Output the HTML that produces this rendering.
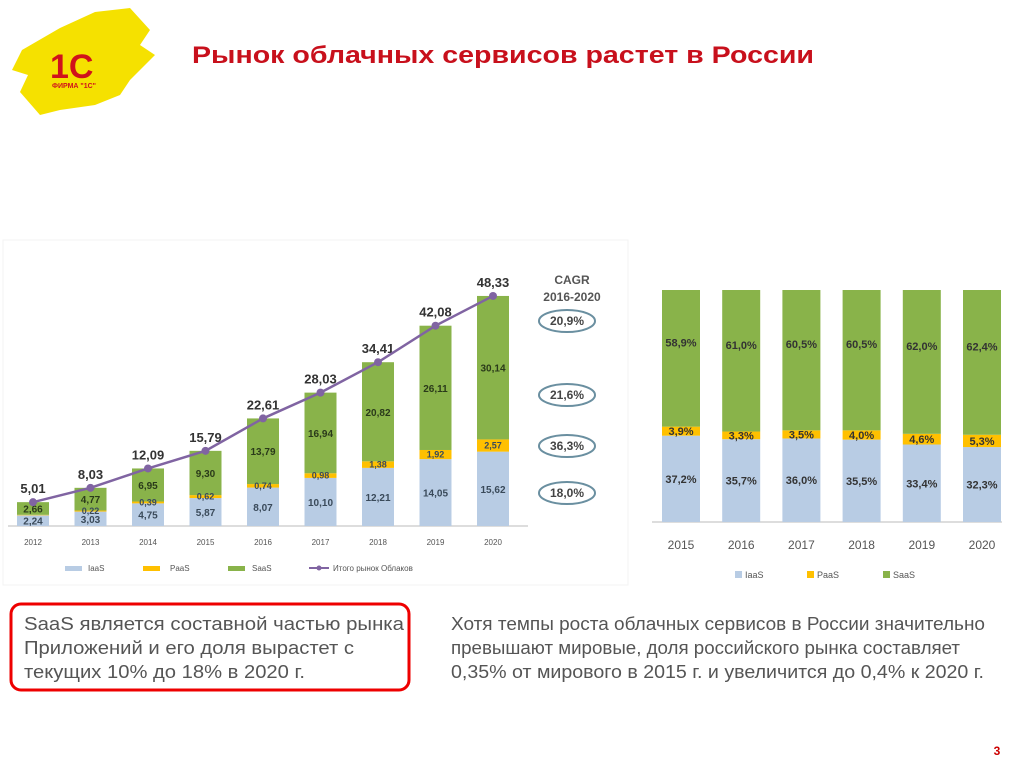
<!DOCTYPE html>
<html><head><meta charset="utf-8"><style>
body{margin:0;width:1024px;height:767px;background:#fff;overflow:hidden;font-family:"Liberation Sans",sans-serif;}
</style></head><body>
<svg width="1024" height="767" viewBox="0 0 1024 767" xmlns="http://www.w3.org/2000/svg" font-family="Liberation Sans, sans-serif">
<path d="M22,50 L60,28 L95,12 L130,8 L150,30 L140,45 L155,55 L130,80 L120,95 L95,105 L60,110 L40,115 L20,92 L28,75 L12,70 Z" fill="#f5e100"/>
<text x="50" y="78" font-size="34" font-weight="bold" fill="#d0121b">1C</text>
<text x="52" y="88" font-size="7" font-weight="bold" fill="#d0121b">ФИРМА "1С"</text>
<text x="192" y="63" font-size="24" font-weight="bold" fill="#c8101c" textLength="622" lengthAdjust="spacingAndGlyphs">Рынок облачных сервисов растет в России</text>
<rect x="3" y="240" width="625" height="345" fill="none" stroke="#f3f3f3"/>
<line x1="8" y1="526" x2="528" y2="526" stroke="#bbb"/>
<g id="left"></g>
<text x="572" y="284" font-size="12" font-weight="bold" fill="#555" text-anchor="middle">CAGR</text>
<text x="572" y="301" font-size="12" font-weight="bold" fill="#555" text-anchor="middle">2016-2020</text>
<g font-size="12" font-weight="bold" fill="#444" text-anchor="middle">
<ellipse cx="567" cy="321" rx="28" ry="11" fill="#fff" stroke="#6a8fa0" stroke-width="2"/><text x="567" y="325">20,9%</text>
<ellipse cx="567" cy="395" rx="28" ry="11" fill="#fff" stroke="#6a8fa0" stroke-width="2"/><text x="567" y="399">21,6%</text>
<ellipse cx="567" cy="446" rx="28" ry="11" fill="#fff" stroke="#6a8fa0" stroke-width="2"/><text x="567" y="450">36,3%</text>
<ellipse cx="567" cy="493" rx="28" ry="11" fill="#fff" stroke="#6a8fa0" stroke-width="2"/><text x="567" y="497">18,0%</text>
</g>
<g font-size="8" fill="#555">
<rect x="65" y="566" width="17" height="5" fill="#b8cce4"/><text x="88" y="571">IaaS</text>
<rect x="143" y="566" width="17" height="5" fill="#ffc000"/><text x="170" y="571">PaaS</text>
<rect x="228" y="566" width="17" height="5" fill="#89b34a"/><text x="252" y="571">SaaS</text>
<line x1="309" y1="568" x2="329" y2="568" stroke="#8064a2" stroke-width="2"/><circle cx="319" cy="568" r="2.5" fill="#8064a2"/><text x="333" y="571">Итого рынок Облаков</text>
</g>
<line x1="652" y1="522" x2="1002" y2="522" stroke="#bbb"/>
<g id="right"></g>
<g font-size="9" fill="#555">
<rect x="735" y="571" width="7" height="7" fill="#b8cce4"/><text x="745" y="578">IaaS</text>
<rect x="807" y="571" width="7" height="7" fill="#ffc000"/><text x="817" y="578">PaaS</text>
<rect x="883" y="571" width="7" height="7" fill="#89b34a"/><text x="893" y="578">SaaS</text>
</g>
<rect x="11" y="604" width="398" height="86" rx="10" fill="none" stroke="#e00" stroke-width="3"/>
<g font-size="18" fill="#555" lengthAdjust="spacingAndGlyphs">
<text x="24" y="630" textLength="380" lengthAdjust="spacingAndGlyphs">SaaS является составной частью рынка</text>
<text x="24" y="654" textLength="330" lengthAdjust="spacingAndGlyphs">Приложений и его доля вырастет с</text>
<text x="24" y="678" textLength="281" lengthAdjust="spacingAndGlyphs">текущих 10% до 18% в 2020 г.</text>
<text x="451" y="630" textLength="534" lengthAdjust="spacingAndGlyphs">Хотя темпы роста облачных сервисов в России значительно</text>
<text x="451" y="654" textLength="509" lengthAdjust="spacingAndGlyphs">превышают мировые, доля российского рынка составляет</text>
<text x="451" y="678" textLength="533" lengthAdjust="spacingAndGlyphs">0,35% от мирового в 2015 г. и увеличится до 0,4% к 2020 г.</text>
</g>
<text x="997" y="755" font-size="12" font-weight="bold" fill="#c00" text-anchor="middle">3</text>
</svg>
<script>
var NS="http://www.w3.org/2000/svg";
function el(p,t,a,txt){var e=document.createElementNS(NS,t);for(var k in a)e.setAttribute(k,a[k]);if(txt!==undefined)e.textContent=txt;p.appendChild(e);return e;}
var L=document.getElementById('left');
var d=[[2012,2.24,0.11,2.66],[2013,3.03,0.22,4.77],[2014,4.75,0.39,6.95],[2015,5.87,0.62,9.30],[2016,8.07,0.74,13.79],[2017,10.10,0.98,16.94],[2018,12.21,1.38,20.82],[2019,14.05,1.92,26.11],[2020,15.62,2.57,30.14]];
var tot=["5,01","8,03","12,09","15,79","22,61","28,03","34,41","42,08","48,33"];
var s=4.76,b=526,pts=[];
d.forEach(function(r,i){var cx=33+57.5*i,w=32,y=b;
 var cols=["#b8cce4","#ffc000","#89b34a"];var ys=[];
 for(var j=0;j<3;j++){var h=r[j+1]*s;y-=h;el(L,'rect',{x:cx-w/2,y:y,width:w,height:h,fill:cols[j]});ys.push(y+h/2);}
 function f(v){return v.toFixed(2).replace('.',',');}
 el(L,'text',{x:cx,y:ys[0]+4,'font-size':10,'font-weight':'bold',fill:'#3a4a5a','text-anchor':'middle'},f(r[1]));
 if(i>0)el(L,'text',{x:cx,y:ys[1]+3,'font-size':9,'font-weight':'bold',fill:'#3a4a5a','text-anchor':'middle'},f(r[2]));
 el(L,'text',{x:cx,y:ys[2]+4,'font-size':10,'font-weight':'bold',fill:'#2a3a1a','text-anchor':'middle'},f(r[3]));
 pts.push([cx,y]);
 el(L,'text',{x:cx,y:y-9,'font-size':13,'font-weight':'bold',fill:'#333','text-anchor':'middle'},tot[i]);
 el(L,'text',{x:cx,y:545,'font-size':8,fill:'#555','text-anchor':'middle'},r[0]);
});
el(L,'polyline',{points:pts.map(function(p){return p.join(',')}).join(' '),fill:'none',stroke:'#8064a2','stroke-width':2.5});
pts.forEach(function(p){el(L,'circle',{cx:p[0],cy:p[1],r:4,fill:'#8064a2'});});
var R=document.getElementById('right');
var rd=[[2015,37.2,3.9,58.9],[2016,35.7,3.3,61.0],[2017,36.0,3.5,60.5],[2018,35.5,4.0,60.5],[2019,33.4,4.6,62.0],[2020,32.3,5.3,62.4]];
rd.forEach(function(r,i){var cx=681+60.2*i,w=38,y=522,H=232;var sum=r[1]+r[2]+r[3];
 var cols=["#b8cce4","#ffc000","#89b34a"];
 for(var j=0;j<3;j++){var h=r[j+1]/sum*H;y-=h;el(R,'rect',{x:cx-w/2,y:y,width:w,height:h,fill:cols[j]});
  var ty=j==2?y+h/2-12:y+h/2+4;
  el(R,'text',{x:cx,y:ty,'font-size':11,'font-weight':'bold',fill:'#333','text-anchor':'middle'},r[j+1].toFixed(1).replace('.',',')+'%');}
 el(R,'text',{x:cx,y:549,'font-size':12,fill:'#555','text-anchor':'middle'},r[0]);
});
</script>
</body></html>
